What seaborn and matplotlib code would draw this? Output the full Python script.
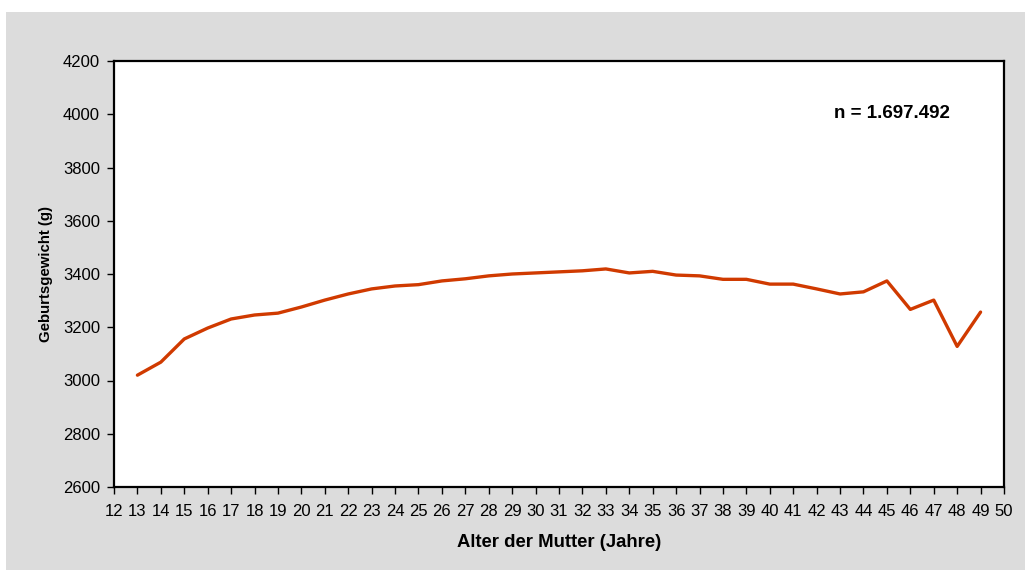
import matplotlib
matplotlib.use("Agg")
import matplotlib.pyplot as plt
from matplotlib.patches import Rectangle
import seaborn as sns
import pandas as pd

ages = list(range(13, 50))
weights = [3020, 3069, 3156, 3197, 3231, 3246, 3253, 3276, 3302, 3325,
           3344, 3355, 3360, 3374, 3382, 3393, 3400, 3404, 3408, 3412,
           3419, 3404, 3410, 3396, 3393, 3380, 3380, 3362, 3362, 3344,
           3325, 3333, 3374, 3267, 3302, 3128, 3257]
x_ticks = list(range(12, 51))
y_ticks = list(range(2600, 4201, 200))

df = pd.DataFrame({"Alter": ages, "Gewicht": weights})

sns.set_theme(style="white")
plt.rcParams['font.family'] = ['Liberation Sans', 'DejaVu Sans']

fig = plt.figure(figsize=(10.25, 5.7), dpi=100)
fig.patch.set_facecolor("white")
bg = Rectangle((6 / 1025, 0), 1 - 6 / 1025, (570 - 12) / 570,
               transform=fig.transFigure, facecolor="#DCDCDC",
               edgecolor="none", zorder=-10)
fig.add_artist(bg)

ax = fig.add_axes([114 / 1025, (570 - 487) / 570, (1004 - 114) / 1025, (487 - 61) / 570])
ax.set_zorder(5)
ax.set_facecolor("white")

sns.lineplot(data=df, x="Alter", y="Gewicht", ax=ax, color="#D03A00", linewidth=2.4)

ax.set_xlim(12, 50)
ax.set_ylim(2600, 4200)
ax.set_xticks(x_ticks)
ax.set_yticks(y_ticks)
ax.tick_params(axis="both", which="major", direction="out", length=5, width=1,
               color="black", labelsize=12, labelcolor="black",
               bottom=True, left=True)
ax.tick_params(axis="x", pad=7)
ax.tick_params(axis="y", pad=5)
for s in ax.spines.values():
    s.set_color("black")
    s.set_linewidth(1.6)

ax.set_xlabel("Alter der Mutter (Jahre)", fontsize=13.3, fontweight="bold", labelpad=11, color="black")
ax.set_ylabel("Geburtsgewicht (g)", fontsize=10.8, fontweight="bold", labelpad=7, color="black")

ax.text(0.874, 0.876, "n = 1.697.492", transform=ax.transAxes, ha="center", va="center",
        fontsize=13.5, fontweight="bold", color="black")

fig.savefig("out.png", dpi=100)
